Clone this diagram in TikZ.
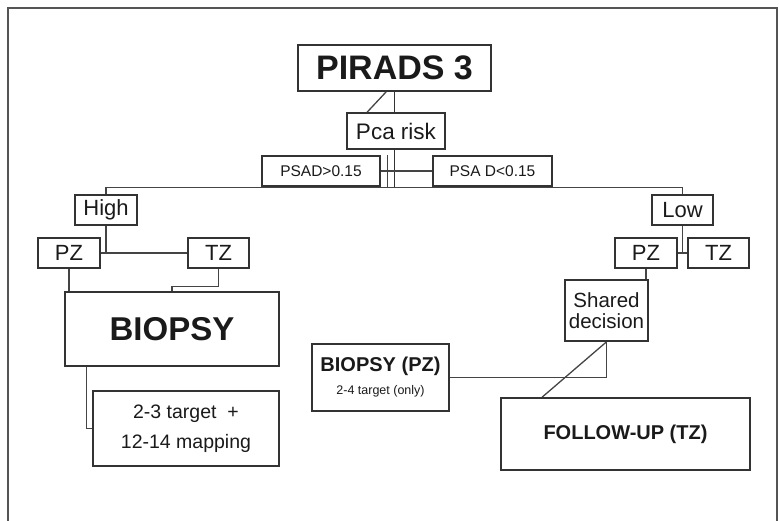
\documentclass[tikz,border=0pt]{standalone}
\usepackage{fontspec}
\setmainfont{Liberation Sans}
\usetikzlibrary{calc}
\definecolor{boxline}{HTML}{333333}
\definecolor{conline}{HTML}{444444}
\definecolor{frameline}{HTML}{555555}
\definecolor{txt}{HTML}{1A1A1A}
\begin{document}
\begin{tikzpicture}[x=1pt,y=-1pt,
  box/.style={draw=boxline,line width=1.7pt,rectangle,inner sep=0pt,text=txt,align=center},
  con/.style={draw=conline,line width=1.3pt},
  mainline/.style={draw=boxline,line width=1.8pt},
  fs/.style n args={2}{font=\fontsize{#1}{#2}\selectfont}]
\useasboundingbox (0,0) rectangle (779,521);
\draw[frameline,line width=1.6pt] (8,521) -- (8,8) -- (777,8) -- (777,521);

% nodes
\node[box,minimum width=193,minimum height=46,font=\fontsize{34}{40}\selectfont\bfseries] (pirads) at (394.5,68) {PIRADS 3};
\node[box,minimum width=98,minimum height=36,fs={22.5}{26}] (pca) at (396,131) {Pca risk};
\node[box,minimum width=118,minimum height=30,fs={15.5}{18}] (psadh) at (321,171) {PSAD>0.15};
\node[box,minimum width=119,minimum height=30,fs={15.5}{18}] (psadl) at (492.5,171) {PSA D<0.15};

\node[box,minimum width=62,minimum height=30,fs={22}{26}] (high) at (106,210) {High};
\node[box,minimum width=62,minimum height=30,fs={22}{26}] (pzl) at (69,253) {PZ};
\node[box,minimum width=61,minimum height=30,fs={22}{26}] (tzl) at (218.5,253) {TZ};
\node[box,minimum width=214,minimum height=74,font=\fontsize{33}{38}\selectfont\bfseries] (biopsy) at (172,329) {BIOPSY};
\node[box,minimum width=186,minimum height=75,fs={19.5}{30}] (map) at (186,428.5) {2-3 target\ \ +\\12-14 mapping};

\node[box,minimum width=61,minimum height=30,fs={22}{26}] (low) at (682.5,210) {Low};
\node[box,minimum width=62,minimum height=30,fs={22}{26}] (pzr) at (646,253) {PZ};
\node[box,minimum width=61,minimum height=30,fs={22}{26}] (tzr) at (718.5,253) {TZ};
\node[box,minimum width=83,minimum height=61,fs={20.5}{21}] (shared) at (606.5,310.5) {Shared\\decision};
\node[box,minimum width=137,minimum height=67,font=\fontsize{20}{23}\selectfont\bfseries] (bpz) at (380.5,377.5) {BIOPSY (PZ)\\{\fontsize{12.5}{23}\selectfont\mdseries 2-4 target (only)}};
\node[box,minimum width=249,minimum height=72,font=\fontsize{20}{24}\selectfont\bfseries] (fu) at (625.5,434) {FOLLOW-UP (TZ)};

% coordinates
\coordinate (barL) at (106,187.5);
\coordinate (barR) at (682.5,187.5);
\coordinate (diagA) at ($(pirads.south west)+(89,0)$);
\coordinate (diagB) at ($(pca.north west)+(21,0)$);
\coordinate (tickT) at ($(psadh.north east)+(7,0)$);
\coordinate (fuA) at ($(fu.north west)+(42,0)$);

% connectors
\draw[mainline] (pirads.south) -- (pirads.south |- pca.north);
\draw[con] (diagA) -- (diagB);
\draw[mainline] (pirads.south |- pca.south) -- (pirads.south |- barL);
\draw[con] (psadh.east) -- (psadl.west);
\draw[con,line width=0.9pt] (tickT) -- (tickT |- barL);
\draw[con] (high.north) -- (barL) -- (barR) -- (low.north);

\draw[con] (high.south) -- (high.south |- pzl.east);
\draw[con] (pzl.east) -- (tzl.west);
\draw[con] (pzl.south) -- (pzl.south |- biopsy.north);
\draw[con] (tzl.south) -- ($(tzl.south)+(0,18)$) -| (biopsy.north);
\draw[con] ($(biopsy.south west)+(22,0)$) |- (map.west);

\draw[con] (low.south) -- (low.south |- pzr.east);
\draw[con] (pzr.east) -- (tzr.west);
\draw[con] (pzr.south) -- (pzr.south |- shared.north);
\draw[con] (shared.south) |- (bpz.east);
\draw[con] (shared.south) -- (fuA);
\end{tikzpicture}
\end{document}
